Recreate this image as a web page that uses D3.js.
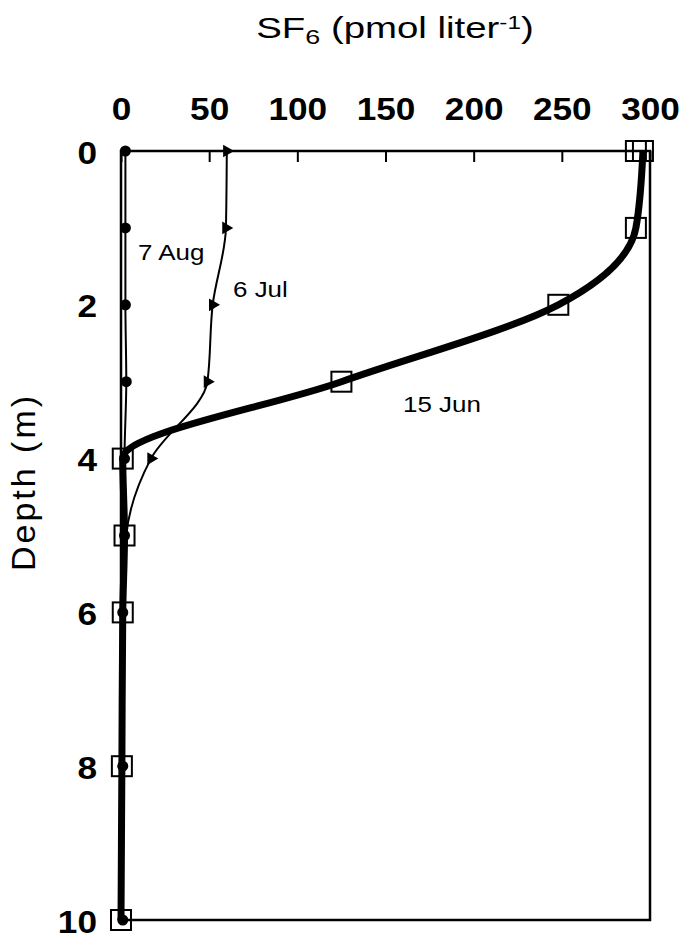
<!DOCTYPE html>
<html>
<head>
<meta charset="utf-8">
<script src="https://cdn.jsdelivr.net/npm/d3@7"></script>
<style>
    body { margin: 0; background: #fff; }
    text { font-family: "Liberation Sans", Arial, sans-serif; fill: #000; }
</style>
</head>
<body>
<script>
// depths sampled (m)
var depths = [0, 1, 2, 3, 4, 5, 6, 8, 10];

// SF6 (pmol/L) for each survey
var jun15 = [296, 292, 248, 125, 1, 2, 1, 0.5, 0];
var jun15Extra = [292];          // second surface sample, 0 m
var jul6 = [60, 59.5, 52, 49, 17, 3, 1, 1, 1];
var aug7 = [2.5, 2.5, 2.5, 3, 2, 2, 1, 1, 1];

var xTicks = [0, 50, 100, 150, 200, 250, 300];
var yTicks = [0, 2, 4, 6, 8, 10];

var w = 685, h = 940;

var svg = d3.select("body")
    .append("svg")
    .attr("width", w)
    .attr("height", h);

var x = d3.scaleLinear()
    .domain([0, 300])
    .range([121, 650]);

var y = d3.scaleLinear()
    .domain([0, 10])
    .range([151, 920]);

function pairs(vals){
    return depths.map(function(d, i){
        return { depth: d, v: vals[i] };
    });
}

// depth is the independent variable, so keep the curve monotone along y
var line = d3.line()
    .x(function(d){ return x(d.v); })
    .y(function(d){ return y(d.depth); })
    .curve(d3.curveMonotoneY);

// frame
svg.append("rect")
    .attr("x", x(0))
    .attr("y", y(0))
    .attr("width", x(300) - x(0))
    .attr("height", y(10) - y(0))
    .style("fill", "none")
    .style("stroke", "#000")
    .style("stroke-width", 2.5);

// top axis, ticks pointing in
var xAxis = svg.append("g")
    .attr("transform", "translate(0," + y(0) + ")")
    .call(d3.axisTop(x).tickValues(xTicks).tickSizeInner(-11).tickSizeOuter(0).tickPadding(31));
xAxis.select(".domain").remove();
xAxis.selectAll("line").style("stroke-width", 2);
xAxis.selectAll("text")
    .attr("transform", "scale(1.1,1)")
    .style("font-size", "32px")
    .style("font-weight", "bold")
    .style("fill", "#000");

var yAxis = svg.append("g")
    .attr("transform", "translate(" + x(0) + ",0)")
    .call(d3.axisLeft(y).tickValues(yTicks).tickSize(0).tickPadding(0));
yAxis.select(".domain").remove();
yAxis.selectAll("text")
    .attr("x", 0)
    .attr("dy", 12)
    .attr("transform", "translate(-24,0) scale(1.1,1)")
    .style("font-size", "32px")
    .style("font-weight", "bold")
    .style("fill", "#000");

// title
var title = svg.append("text")
    .attr("transform", "translate(395,38) scale(1.28,1)")
    .attr("text-anchor", "middle")
    .style("font-size", "30px");
title.append("tspan").text("SF");
title.append("tspan").attr("dy", 6).style("font-size", "21px").text("6");
title.append("tspan").attr("dy", -6).text(" (pmol liter");
title.append("tspan").attr("dy", -9).style("font-size", "19px").text("-1");
title.append("tspan").attr("dy", 9).text(")");

svg.append("text")
    .attr("transform", "translate(35,482) rotate(-90)")
    .attr("text-anchor", "middle")
    .style("font-size", "34px")
    .style("letter-spacing", "3px")
    .text("Depth (m)");

// profiles
svg.append("path")
    .datum(pairs(aug7))
    .attr("d", line)
    .style("fill", "none")
    .style("stroke", "#000")
    .style("stroke-width", 2);

svg.append("path")
    .datum(pairs(jul6))
    .attr("d", line)
    .style("fill", "none")
    .style("stroke", "#000")
    .style("stroke-width", 2);

svg.append("path")
    .datum(pairs(jun15))
    .attr("d", line)
    .style("fill", "none")
    .style("stroke", "#000")
    .style("stroke-width", 7);

// markers
svg.selectAll(".aug")
    .data(pairs(aug7))
    .enter()
    .append("circle")
    .attr("class", "aug")
    .attr("cx", function(d){ return x(d.v); })
    .attr("cy", function(d){ return y(d.depth); })
    .attr("r", 5.5)
    .style("fill", "#000");

var tri = d3.symbol().type(d3.symbolTriangle).size(70);
svg.selectAll(".jul")
    .data(pairs(jul6).slice(0, 5))
    .enter()
    .append("path")
    .attr("class", "jul")
    .attr("d", tri)
    .attr("transform", function(d){
        return "translate(" + x(d.v) + "," + y(d.depth) + ") rotate(90)";
    })
    .style("fill", "#000");

var sq = pairs(jun15).concat(jun15Extra.map(function(v){ return { depth: 0, v: v }; }));
svg.selectAll(".jun")
    .data(sq)
    .enter()
    .append("rect")
    .attr("class", "jun")
    .attr("x", function(d){ return x(d.v) - 10; })
    .attr("y", function(d){ return y(d.depth) - 10; })
    .attr("width", 20)
    .attr("height", 20)
    .style("fill", "none")
    .style("stroke", "#000")
    .style("stroke-width", 2);

// series labels
var labels = [
    { name: "7 Aug", x: 138, y: 260 },
    { name: "6 Jul", x: 233, y: 297 },
    { name: "15 Jun", x: 403, y: 412 }
];
svg.selectAll(".lab")
    .data(labels)
    .enter()
    .append("text")
    .attr("class", "lab")
    .attr("transform", function(d){ return "translate(" + d.x + "," + d.y + ") scale(1.18,1)"; })
    .style("font-size", "22px")
    .text(function(d){ return d.name; });
</script>
</body>
</html>
